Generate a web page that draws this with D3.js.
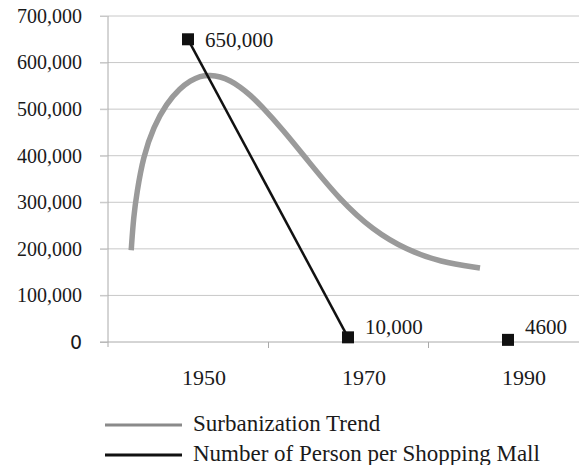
<!DOCTYPE html>
<html>
<head>
<meta charset="utf-8">
<script src="https://cdn.jsdelivr.net/npm/d3@7"></script>
<style>
  body { margin: 0; background: #fff; }
  text { font-family: "Liberation Serif", serif; fill: #1a1a1a; }
</style>
</head>
<body>
<div id="chart"></div>
<script>
// point series: persons per shopping mall
const mallYears = [1950, 1970, 1990];
const mallValues = [650000, 10000, 4600];
const mallLabels = ["650,000", "10,000", "4600"];

// smooth trend line
const trendYears = [1942.9, 1943.2, 1943.6, 1944.4, 1945.7, 1947.3, 1949.0, 1950.3, 1951.5, 1952.8, 1954.0, 1955.3, 1956.5, 1957.8, 1959.0, 1961.9, 1964.9, 1969.0, 1973.1, 1977.4, 1981.5, 1986.5];
const trendValues = [197000, 269000, 320000, 398000, 462000, 512000, 545000, 561000, 571000, 573000, 570000, 561000, 548000, 530000, 510000, 455000, 391000, 305000, 240000, 197000, 172000, 159000];

const yTicks = [0, 100000, 200000, 300000, 400000, 500000, 600000, 700000];
const xTickLabels = ["1950", "1970", "1990"];
const xBoundaries = [1960, 1980];

const legendItems = ["Surbanization Trend", "Number of Person per Shopping Mall"];

const width = 579, height = 465;

const svg = d3.select("#chart").append("svg")
	.attr("width", width)
	.attr("height", height);

const x = d3.scaleLinear().domain([1940, 2000]).range([108, 588]);
const y = d3.scaleLinear().domain([0, 700000]).range([342, 16]);

// gridlines
svg.append("g")
	.selectAll("line")
	.data(yTicks.filter(d => d > 0))
	.enter().append("line")
	.attr("x1", 100)
	.attr("x2", width)
	.attr("y1", d => y(d))
	.attr("y2", d => y(d))
	.attr("stroke", "#c8c8c8")
	.attr("stroke-width", 1);

// y axis
const yAxis = d3.axisLeft(y)
	.tickValues(yTicks)
	.tickSize(8)
	.tickPadding(18)
	.tickFormat(d => d === 0 ? "0" : d3.format(",")(d));

const yg = svg.append("g")
	.attr("transform", `translate(${x(1940)},0)`)
	.call(yAxis);
yg.attr("font-family", null);
yg.select(".domain").attr("stroke", "#aaa").attr("d", `M0,${y(700000)}V${y(0) + 5}`);
yg.selectAll(".tick line").attr("stroke", "#c8c8c8");
yg.selectAll(".tick text")
	.style("font-family", d => d === 0 ? "'DejaVu Sans', sans-serif" : "'Liberation Serif', serif")
	.style("font-size", d => d === 0 ? "19px" : "20px")
	.attr("fill", "#1a1a1a");

// x axis
const xAxis = d3.axisBottom(x)
	.tickValues(xBoundaries)
	.tickSize(6)
	.tickFormat("");
const xg = svg.append("g")
	.attr("transform", `translate(0,${y(0)})`)
	.call(xAxis);
xg.select(".domain").attr("stroke", "#aaa").attr("d", `M100,0H${width}`);
xg.selectAll(".tick line").attr("stroke", "#aaa");

svg.append("g")
	.selectAll("text")
	.data(xTickLabels)
	.enter().append("text")
	.attr("x", (d, i) => x(mallYears[i]) + 16)
	.attr("y", 385)
	.attr("text-anchor", "middle")
	.style("font-size", "22px")
	.text(d => d);

// trend curve
const trendData = trendYears.map((t, i) => ({year: t, value: trendValues[i]}));
svg.append("path")
	.datum(trendData)
	.attr("fill", "none")
	.attr("stroke", "#9a9a9a")
	.attr("stroke-width", 5.5)
	.attr("d", d3.line()
		.x(d => x(d.year))
		.y(d => y(d.value))
		.curve(d3.curveBasis));

// mall series: only first two points are joined
const mallData = mallYears.map((t, i) => ({year: t, value: mallValues[i], label: mallLabels[i]}));
svg.append("path")
	.datum(mallData.slice(0, 2))
	.attr("fill", "none")
	.attr("stroke", "#111")
	.attr("stroke-width", 2.5)
	.attr("d", d3.line().x(d => x(d.year)).y(d => y(d.value)));

svg.append("g")
	.selectAll("rect")
	.data(mallData)
	.enter().append("rect")
	.attr("x", d => x(d.year) - 6)
	.attr("y", d => y(d.value) - 6)
	.attr("width", 12)
	.attr("height", 12)
	.attr("fill", "#111");

svg.append("g")
	.selectAll("text")
	.data(mallData)
	.enter().append("text")
	.attr("x", d => x(d.year) + 17)
	.attr("y", d => Math.min(y(d.value) + 8, y(0) - 8))
	.style("font-size", "21px")
	.text(d => d.label);

// legend
const legend = svg.append("g");
legend.selectAll("line")
	.data(legendItems)
	.enter().append("line")
	.attr("x1", 105)
	.attr("x2", 182)
	.attr("y1", (d, i) => 425 + i * 30)
	.attr("y2", (d, i) => 425 + i * 30)
	.attr("stroke", (d, i) => i === 0 ? "#8a8a8a" : "#111")
	.attr("stroke-width", 3);
legend.selectAll("text")
	.data(legendItems)
	.enter().append("text")
	.attr("x", 193)
	.attr("y", (d, i) => 431 + i * 30)
	.style("font-size", "23px")
	.text(d => d);
</script>
</body>
</html>
